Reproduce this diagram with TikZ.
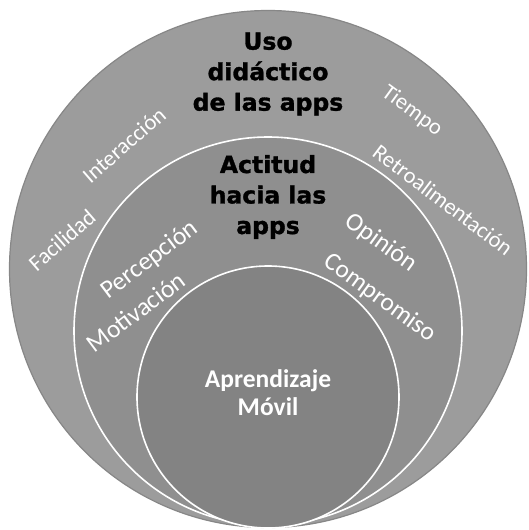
\documentclass[tikz,border=0pt]{standalone}
\usepackage{fontspec}
\setmainfont{Carlito}
\newfontfamily\titlefont[BoldFeatures={FakeBold=1.3}]{DejaVu Sans}
\definecolor{outerfill}{gray}{0.61}
\definecolor{midfill}{gray}{0.56}
\definecolor{innerfill}{gray}{0.515}
\definecolor{outeredge}{gray}{0.53}
\tikzset{
  ring/.style={line width=1.6pt},
  titletext/.style={align=center, text=black, inner sep=0pt,
    font=\titlefont\bfseries\fontsize{23.5}{30.5}\selectfont},
  centretext/.style={align=center, text=white, inner sep=0pt,
    font=\bfseries\fontsize{25.5}{28}\selectfont},
  outerlbl/.style={text=white, inner sep=0pt, font=\fontsize{22.5}{24}\selectfont},
  innerlbl/.style={text=white, inner sep=0pt, font=\fontsize{25.5}{27}\selectfont},
}
\begin{document}
\begin{tikzpicture}[x=1pt,y=-1pt]
\useasboundingbox (0,0) rectangle (529,530);
\fill[white] (0,0) rectangle (529,530);
% circles
\draw[fill=outerfill, draw=outeredge, line width=1.2pt] (268,269) circle[radius=258.5];
\draw[fill=midfill, draw=white, ring] (268,331) circle[radius=194];
\draw[fill=innerfill, draw=white, ring] (268,397) circle[radius=131];
% titles
\node[titletext] (uso) at (268,74) {Uso\\didáctico\\de las apps};
\node[titletext] (actitud) at (268,197) {Actitud\\hacia las\\apps};
\node[centretext] (movil) at (268,393) {Aprendizaje\\Móvil};
% outer ring labels
\node[outerlbl, rotate=41] (facilidad) at (62,240) {Facilidad};
\node[outerlbl, rotate=41] (interaccion) at (124,145) {Interacción};
\node[outerlbl, rotate=-36] (tiempo) at (412,111) {Tiempo};
\node[outerlbl, rotate=-37] (retro) at (443,200) {Retroalimentación};
% middle ring labels
\node[innerlbl, rotate=37] (percepcion) at (150,260) {Percepción};
\node[innerlbl, rotate=37] (motivacion) at (136,312) {Motivación};
\node[innerlbl, rotate=-36] (opinion) at (381,243) {Opinión};
\node[innerlbl, rotate=-36] (compromiso) at (380,298) {Compromiso};
\end{tikzpicture}
\end{document}
